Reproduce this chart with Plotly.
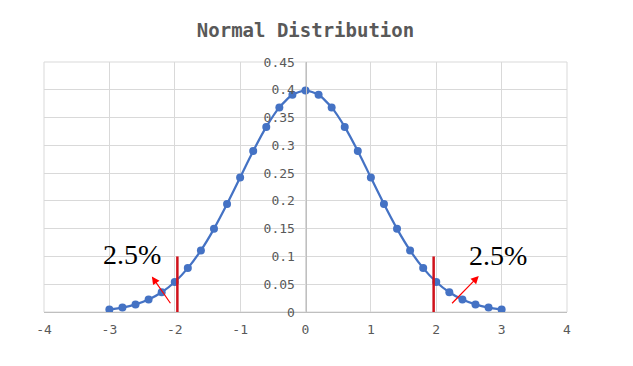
import plotly.graph_objects as go

x_vals = [-3.0, -2.8, -2.6, -2.4, -2.2, -2.0, -1.8, -1.6, -1.4, -1.2, -1.0, -0.8, -0.6, -0.4, -0.2, 0.0,
          0.2, 0.4, 0.6, 0.8, 1.0, 1.2, 1.4, 1.6, 1.8, 2.0, 2.2, 2.4, 2.6, 2.8, 3.0]
y_vals = [0.0044, 0.0079, 0.0136, 0.0224, 0.0355, 0.0540, 0.0790, 0.1109, 0.1497, 0.1942, 0.2420,
          0.2897, 0.3332, 0.3683, 0.3910, 0.3989, 0.3910, 0.3683, 0.3332, 0.2897, 0.2420, 0.1942,
          0.1497, 0.1109, 0.0790, 0.0540, 0.0355, 0.0224, 0.0136, 0.0079, 0.0044]
crit_x = [-1.96, 1.96]
crit_top = 0.1
x_ticks = [-4, -3, -2, -1, 0, 1, 2, 3, 4]
y_ticks = [0, 0.05, 0.1, 0.15, 0.2, 0.25, 0.3, 0.35, 0.4, 0.45]
y_tick_text = ["0", "0.05", "0.1", "0.15", "0.2", "0.25", "0.3", "0.35", "0.4", "0.45"]
tail_label = "2.5%"
label_pos = [(-2.66, 0.103), (2.94, 0.102)]
arrows = [((-2.05, 0.013), (-2.35, 0.064)), ((2.22, 0.013), (2.65, 0.065))]

fig = go.Figure()
fig.add_trace(go.Scatter(
    x=x_vals, y=y_vals, mode="lines+markers",
    line=dict(color="#4472C4", width=2.25, shape="spline", smoothing=0.6),
    marker=dict(color="#4472C4", size=8),
    showlegend=False, hoverinfo="skip"))

# plot-area border (gridline coloured)
fig.add_shape(type="rect", xref="paper", yref="paper", x0=0, x1=1, y0=0, y1=1,
              line=dict(color="#D9D9D9", width=1), layer="below")

for cx in crit_x:
    fig.add_shape(type="line", xref="x", yref="y", x0=cx, x1=cx, y0=0, y1=crit_top,
                  line=dict(color="#D0121B", width=2.5))

for (tx, ty) in label_pos:
    fig.add_annotation(x=tx, y=ty, xref="x", yref="y", text=tail_label, showarrow=False,
                       font=dict(family="Liberation Serif", size=28, color="#000000"))

for (tail, head) in arrows:
    fig.add_annotation(x=head[0], y=head[1], ax=tail[0], ay=tail[1], xref="x", yref="y",
                       axref="x", ayref="y", text="", showarrow=True, arrowhead=2,
                       arrowsize=1.3, arrowwidth=1.2, arrowcolor="#FF0000")

fig.update_layout(
    width=633, height=366,
    margin=dict(l=44, r=66, t=62, b=54),
    paper_bgcolor="white", plot_bgcolor="white",
    title=dict(text="<b>Normal Distribution</b>", x=0.5, xref="paper", xanchor="center",
               y=1 - 30 / 366, yref="container", yanchor="middle",
               font=dict(family="DejaVu Sans Mono", size=19, color="#595959")),
    xaxis=dict(range=[-4, 4], tickvals=x_ticks, ticktext=[str(v) for v in x_ticks],
               showgrid=True, gridcolor="#D9D9D9", gridwidth=1, zeroline=False,
               showline=True, linecolor="#BFBFBF", linewidth=1,
               tickfont=dict(family="DejaVu Sans Mono", size=13, color="#595959"),
               ticks="", ticklabelstandoff=5),
    yaxis=dict(range=[0, 0.45], tickvals=y_ticks, ticktext=y_tick_text,
               showgrid=True, gridcolor="#D9D9D9", gridwidth=1, zeroline=False,
               anchor="free", position=0.5, showline=True, linecolor="#BFBFBF", linewidth=1,
               tickfont=dict(family="DejaVu Sans Mono", size=13, color="#595959"),
               ticks="", ticklabelstandoff=8),
)

fig.write_html("out.html", config={"displayModeBar": False},
               post_script="document.body.style.margin='0px';document.body.style.overflow='hidden';")
